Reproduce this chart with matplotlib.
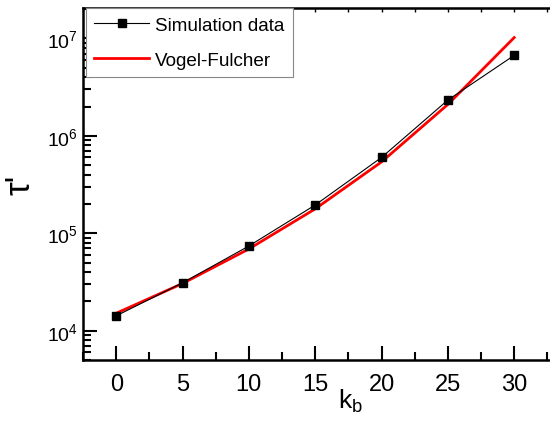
import matplotlib
matplotlib.use('Agg')
import matplotlib.pyplot as plt
from matplotlib.ticker import LogLocator, MultipleLocator, NullFormatter

plt.rcParams['font.family'] = ['Liberation Sans', 'DejaVu Sans']
plt.rcParams['mathtext.fontset'] = 'custom'
plt.rcParams['mathtext.rm'] = 'Liberation Sans'

kb = [0, 5, 10, 15, 20, 25, 30]
sim_tau = [1.42e4, 3.1e4, 7.4e4, 1.95e5, 6.0e5, 2.33e6, 6.7e6]
vf_tau = [1.51e4, 3.05e4, 6.9e4, 1.78e5, 5.4e5, 2.1e6, 1.02e7]

fig = plt.figure(figsize=(5.5, 4.31), dpi=100)
ax = fig.add_axes([0.151, 0.1624, 0.849, 0.8166])

ax.plot(kb, sim_tau, color='black', linewidth=0.8, marker='s', markersize=6,
        label='Simulation data', zorder=3)
ax.plot(kb, vf_tau, color='red', linewidth=2, label='Vogel-Fulcher', zorder=2)

ax.set_yscale('log')
ax.set_xlim(-2.5, 32.7)
ax.set_ylim(5e3, 2.05e7)

ax.xaxis.set_major_locator(MultipleLocator(5))
ax.xaxis.set_minor_locator(MultipleLocator(2.5))
ax.yaxis.set_major_locator(LogLocator(base=10, numticks=10))
ax.yaxis.set_minor_locator(LogLocator(base=10, subs=range(2, 10), numticks=20))
ax.yaxis.set_minor_formatter(NullFormatter())

ax.tick_params(which='major', direction='in', length=10, width=1.5, labelsize=14)
ax.tick_params(which='minor', direction='in', length=6, width=1.5)
ax.tick_params(axis='x', which='major', labelsize=17, pad=9)
for s in ax.spines.values():
    s.set_linewidth(1.8)
ax.spines['right'].set_visible(False)

top = ax.secondary_xaxis('top')
top.xaxis.set_major_locator(MultipleLocator(2.5))
top.tick_params(direction='in', length=3, width=1, labeltop=False)

ax.set_xlabel('k$_\\mathrm{b}$', fontsize=19)
ax.xaxis.set_label_coords(0.572, -0.075)
ax.set_ylabel("τ'", fontsize=25)
ax.yaxis.set_label_coords(-0.10, 0.5)

leg = ax.legend(loc='upper left', bbox_to_anchor=(0.006, 1.0), fontsize=13.6,
                handlelength=2.9, handletextpad=0.3, borderpad=0.45,
                labelspacing=0.95, fancybox=False, framealpha=1,
                edgecolor='#888888', borderaxespad=0)
leg.get_frame().set_linewidth(0.8)

plt.savefig('out.png', dpi=100)
plt.close()
